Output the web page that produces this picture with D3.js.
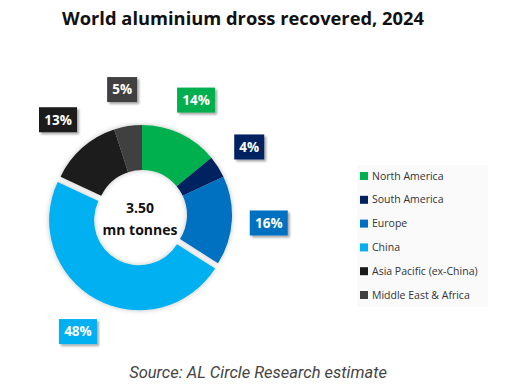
<!DOCTYPE html>
<html>
<head>
<meta charset="utf-8">
<script src="https://cdn.jsdelivr.net/npm/d3@7"></script>
<style>
  body { margin: 0; background: #fff; }
</style>
</head>
<body>
<div id="viz"></div>
<script>
const regions = ['North America', 'South America', 'Europe', 'China', 'Asia Pacific (ex-China)', 'Middle East & Africa'];
const shares = [14, 4, 16, 48, 13, 5];
const colors = ['#00b050', '#002060', '#0070c0', '#00b0f0', '#1a1a1a', '#404040'];
const exploded = 'China';

const width = 513;
const height = 388;
const cx = 142;
const cy = 215;
const outer = 90;
const inner = 45;

const svg = d3.select('#viz')
      .append('svg')
      .attr('width', width)
      .attr('height', height)
      .style('font-family', 'Open Sans, sans-serif');

const defs = svg.append('defs');
const shadow = defs.append('filter')
      .attr('id', 'shadow')
      .attr('x', '-20%').attr('y', '-20%')
      .attr('width', '140%').attr('height', '140%');
shadow.append('feDropShadow')
    .attr('dx', 0).attr('dy', 0)
    .attr('stdDeviation', 2.5)
    .attr('flood-color', '#000')
    .attr('flood-opacity', 0.25);

const boxShadow = defs.append('filter')
      .attr('id', 'boxshadow')
      .attr('x', '-30%').attr('y', '-30%')
      .attr('width', '160%').attr('height', '160%');
boxShadow.append('feDropShadow')
    .attr('dx', 2).attr('dy', 2)
    .attr('stdDeviation', 1.2)
    .attr('flood-color', '#000')
    .attr('flood-opacity', 0.35);

// title
svg.append('text')
    .attr('x', 243)
    .attr('y', 25)
    .attr('text-anchor', 'middle')
    .attr('font-size', 17)
    .attr('font-weight', 700)
    .attr('fill', '#111')
    .attr('textLength', 362)
    .attr('lengthAdjust', 'spacingAndGlyphs')
    .text('World aluminium dross recovered, 2024');

const data = regions.map((r, i) => ({ region: r, value: shares[i], color: colors[i] }));
const pie = d3.pie().value(d => d.value).sort(null);
const arcs = pie(data);

const arc = d3.arc().innerRadius(inner).outerRadius(outer);
const labelArc = d3.arc().innerRadius(127).outerRadius(127);
const pushArc = d3.arc().innerRadius(6).outerRadius(6);

const offsetOf = d => d.data.region === exploded ? pushArc.centroid(d) : [0, 0];

const donut = svg.append('g')
      .attr('transform', `translate(${cx} ${cy})`)
      .attr('filter', 'url(#shadow)');

donut.selectAll('path')
  .data(arcs)
  .join('path')
    .attr('d', arc)
    .attr('fill', d => d.data.color)
    .attr('transform', d => `translate(${offsetOf(d)})`);

// centre text
const centre = svg.append('g')
      .attr('transform', `translate(${cx - 2} ${cy})`)
      .attr('text-anchor', 'middle')
      .attr('font-size', 14)
      .attr('font-weight', 700)
      .attr('fill', '#111');
centre.append('text').attr('y', -2).text('3.50');
centre.append('text').attr('y', 20).text('mn tonnes');

// percentage labels
const labels = svg.append('g')
      .attr('transform', `translate(${cx} ${cy})`);

const lab = labels.selectAll('g')
  .data(arcs)
  .join('g')
    .attr('transform', d => {
      const [x, y] = labelArc.centroid(d);
      const [ox, oy] = offsetOf(d);
      return `translate(${x + ox} ${y + oy})`;
    });

lab.append('rect')
    .attr('x', d => d.data.value >= 10 ? -19 : -15)
    .attr('y', -12.5)
    .attr('width', d => d.data.value >= 10 ? 38 : 30)
    .attr('height', 25)
    .attr('fill', d => d.data.color)
    .attr('filter', 'url(#boxshadow)');

lab.append('text')
    .attr('text-anchor', 'middle')
    .attr('dy', '0.36em')
    .attr('font-size', 13.5)
    .attr('font-weight', 700)
    .attr('fill', '#fff')
    .text(d => d.data.value + '%');

// legend
const legend = svg.append('g')
      .attr('transform', 'translate(357 165)');

legend.append('rect')
    .attr('width', 131)
    .attr('height', 142)
    .attr('fill', '#fafafa');

const item = legend.selectAll('g.item')
  .data(data)
  .join('g')
    .attr('class', 'item')
    .attr('transform', (d, i) => `translate(3 ${11 + i * 23.8})`);

item.append('rect')
    .attr('x', 0)
    .attr('y', -4)
    .attr('width', 8)
    .attr('height', 8)
    .attr('fill', d => d.color);

item.append('text')
    .attr('x', 12)
    .attr('dy', '0.35em')
    .attr('font-size', 10.5)
    .attr('fill', '#333')
    .text(d => d.region);

// source
svg.append('text')
    .attr('x', 258)
    .attr('y', 378)
    .attr('text-anchor', 'middle')
    .attr('font-family', 'Roboto, sans-serif')
    .attr('font-style', 'italic')
    .attr('font-size', 16.5)
    .attr('fill', '#444')
    .text('Source: AL Circle Research estimate');
</script>
</body>
</html>
